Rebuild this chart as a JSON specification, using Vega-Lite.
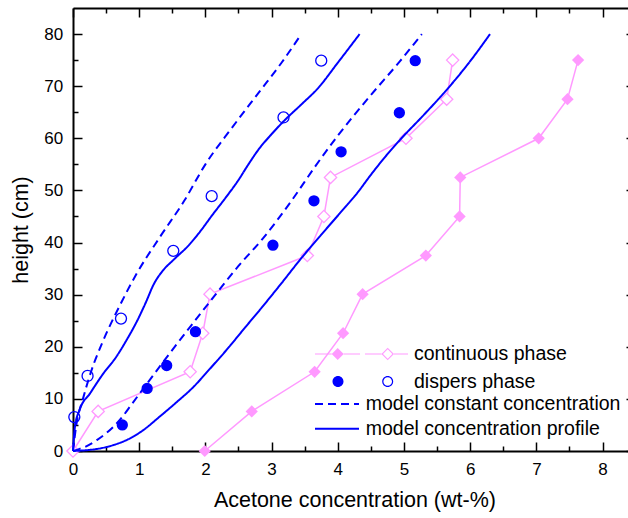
{
  "$schema": "https://vega.github.io/schema/vega-lite/v6.json",
  "width": 555,
  "height": 443,
  "autosize": {"type": "none"},
  "padding": {"left": 73, "top": 8, "right": 0, "bottom": 67},
  "background": "white",
  "config": {
    "font": "Liberation Sans",
    "view": {"stroke": null},
    "axis": {"grid": false, "domainColor": "black", "domainWidth": 2, "tickColor": "black", "tickWidth": 1.5, "labelColor": "black", "labelFont": "Liberation Sans", "titleFont": "Liberation Sans", "titleColor": "black", "titleFontWeight": "normal"},
    "legend": {"labelFont": "Liberation Sans", "labelColor": "black", "labelLimit": 0}
  },
  "resolve": {"axis": {"x": "independent", "y": "independent"}},
  "datasets": {
    "cont": [
      {"exp": "filled", "x": 1.99, "y": 0},
      {"exp": "filled", "x": 2.70, "y": 7.6},
      {"exp": "filled", "x": 3.65, "y": 15.2},
      {"exp": "filled", "x": 4.08, "y": 22.6},
      {"exp": "filled", "x": 4.375, "y": 30.1},
      {"exp": "filled", "x": 5.33, "y": 37.5},
      {"exp": "filled", "x": 5.84, "y": 45},
      {"exp": "filled", "x": 5.85, "y": 52.5},
      {"exp": "filled", "x": 7.035, "y": 60},
      {"exp": "filled", "x": 7.47, "y": 67.5},
      {"exp": "filled", "x": 7.63, "y": 75},
      {"exp": "open", "x": 0, "y": 0},
      {"exp": "open", "x": 0.38, "y": 7.6},
      {"exp": "open", "x": 1.77, "y": 15.2},
      {"exp": "open", "x": 1.96, "y": 22.6},
      {"exp": "open", "x": 2.07, "y": 30.1},
      {"exp": "open", "x": 3.54, "y": 37.5},
      {"exp": "open", "x": 3.79, "y": 45},
      {"exp": "open", "x": 3.89, "y": 52.5},
      {"exp": "open", "x": 5.03, "y": 60},
      {"exp": "open", "x": 5.645, "y": 67.5},
      {"exp": "open", "x": 5.735, "y": 75}
    ],
    "disp": [
      {"exp": "filled", "x": 0.745, "y": 5.0},
      {"exp": "filled", "x": 1.12, "y": 12.0},
      {"exp": "filled", "x": 1.415, "y": 16.4},
      {"exp": "filled", "x": 1.85, "y": 22.9},
      {"exp": "filled", "x": 3.02, "y": 39.5},
      {"exp": "filled", "x": 3.64, "y": 48.0},
      {"exp": "filled", "x": 4.05, "y": 57.4},
      {"exp": "filled", "x": 4.93, "y": 64.9},
      {"exp": "filled", "x": 5.17, "y": 74.9},
      {"exp": "open", "x": 0.02, "y": 6.5},
      {"exp": "open", "x": 0.22, "y": 14.4},
      {"exp": "open", "x": 0.725, "y": 25.4},
      {"exp": "open", "x": 1.515, "y": 38.4},
      {"exp": "open", "x": 2.095, "y": 48.9},
      {"exp": "open", "x": 3.18, "y": 64.0},
      {"exp": "open", "x": 3.75, "y": 74.9}
    ],
    "curves": [
      {"curve": "dl", "model": "model constant concentration", "x": 0, "y": 0},
      {"curve": "dl", "model": "model constant concentration", "x": 0.05, "y": 5},
      {"curve": "dl", "model": "model constant concentration", "x": 0.15, "y": 10},
      {"curve": "dl", "model": "model constant concentration", "x": 0.28, "y": 15.5},
      {"curve": "dl", "model": "model constant concentration", "x": 0.45, "y": 21},
      {"curve": "dl", "model": "model constant concentration", "x": 0.73, "y": 28.5},
      {"curve": "dl", "model": "model constant concentration", "x": 0.96, "y": 34},
      {"curve": "dl", "model": "model constant concentration", "x": 1.31, "y": 41},
      {"curve": "dl", "model": "model constant concentration", "x": 1.68, "y": 48},
      {"curve": "dl", "model": "model constant concentration", "x": 2.0, "y": 55},
      {"curve": "dl", "model": "model constant concentration", "x": 2.4, "y": 62},
      {"curve": "dl", "model": "model constant concentration", "x": 2.82, "y": 69},
      {"curve": "dl", "model": "model constant concentration", "x": 3.15, "y": 74.5},
      {"curve": "dl", "model": "model constant concentration", "x": 3.45, "y": 80},
      {"curve": "sl", "model": "model concentration profile", "x": 0, "y": 0},
      {"curve": "sl", "model": "model concentration profile", "x": 0.01, "y": 2},
      {"curve": "sl", "model": "model concentration profile", "x": 0.03, "y": 4.7},
      {"curve": "sl", "model": "model concentration profile", "x": 0.1, "y": 7.9},
      {"curve": "sl", "model": "model concentration profile", "x": 0.26, "y": 11.1},
      {"curve": "sl", "model": "model concentration profile", "x": 0.46, "y": 14.9},
      {"curve": "sl", "model": "model concentration profile", "x": 0.65, "y": 18},
      {"curve": "sl", "model": "model concentration profile", "x": 0.81, "y": 21.3},
      {"curve": "sl", "model": "model concentration profile", "x": 0.97, "y": 25},
      {"curve": "sl", "model": "model concentration profile", "x": 1.1, "y": 28.5},
      {"curve": "sl", "model": "model concentration profile", "x": 1.22, "y": 32},
      {"curve": "sl", "model": "model concentration profile", "x": 1.35, "y": 34.5},
      {"curve": "sl", "model": "model concentration profile", "x": 1.52, "y": 36.7},
      {"curve": "sl", "model": "model concentration profile", "x": 1.75, "y": 39.5},
      {"curve": "sl", "model": "model concentration profile", "x": 1.92, "y": 42.1},
      {"curve": "sl", "model": "model concentration profile", "x": 2.1, "y": 45.2},
      {"curve": "sl", "model": "model concentration profile", "x": 2.3, "y": 48.5},
      {"curve": "sl", "model": "model concentration profile", "x": 2.5, "y": 52},
      {"curve": "sl", "model": "model concentration profile", "x": 2.65, "y": 55},
      {"curve": "sl", "model": "model concentration profile", "x": 2.8, "y": 57.8},
      {"curve": "sl", "model": "model concentration profile", "x": 3.0, "y": 60.8},
      {"curve": "sl", "model": "model concentration profile", "x": 3.2, "y": 63.5},
      {"curve": "sl", "model": "model concentration profile", "x": 3.45, "y": 66.5},
      {"curve": "sl", "model": "model concentration profile", "x": 3.7, "y": 69.6},
      {"curve": "sl", "model": "model concentration profile", "x": 4.0, "y": 74.5},
      {"curve": "sl", "model": "model concentration profile", "x": 4.33, "y": 80},
      {"curve": "dr", "model": "model constant concentration", "x": 0, "y": 0},
      {"curve": "dr", "model": "model constant concentration", "x": 0.1, "y": 0.4},
      {"curve": "dr", "model": "model constant concentration", "x": 0.2, "y": 0.9},
      {"curve": "dr", "model": "model constant concentration", "x": 0.36, "y": 2.1},
      {"curve": "dr", "model": "model constant concentration", "x": 0.5, "y": 3.4},
      {"curve": "dr", "model": "model constant concentration", "x": 0.71, "y": 6},
      {"curve": "dr", "model": "model constant concentration", "x": 0.9, "y": 9.2},
      {"curve": "dr", "model": "model constant concentration", "x": 1.11, "y": 12.8},
      {"curve": "dr", "model": "model constant concentration", "x": 1.465, "y": 18.8},
      {"curve": "dr", "model": "model constant concentration", "x": 2.04, "y": 28.2},
      {"curve": "dr", "model": "model constant concentration", "x": 2.5, "y": 35.5},
      {"curve": "dr", "model": "model constant concentration", "x": 2.87, "y": 40.8},
      {"curve": "dr", "model": "model constant concentration", "x": 3.3, "y": 48},
      {"curve": "dr", "model": "model constant concentration", "x": 3.67, "y": 54.8},
      {"curve": "dr", "model": "model constant concentration", "x": 4.0, "y": 60.5},
      {"curve": "dr", "model": "model constant concentration", "x": 4.5, "y": 68.3},
      {"curve": "dr", "model": "model constant concentration", "x": 4.94, "y": 74.8},
      {"curve": "dr", "model": "model constant concentration", "x": 5.27, "y": 80},
      {"curve": "sr", "model": "model concentration profile", "x": 0, "y": 0},
      {"curve": "sr", "model": "model concentration profile", "x": 0.2, "y": 0.15},
      {"curve": "sr", "model": "model concentration profile", "x": 0.41, "y": 0.5},
      {"curve": "sr", "model": "model concentration profile", "x": 0.6, "y": 1.1},
      {"curve": "sr", "model": "model concentration profile", "x": 0.81, "y": 2.1},
      {"curve": "sr", "model": "model concentration profile", "x": 1.05, "y": 3.9},
      {"curve": "sr", "model": "model concentration profile", "x": 1.31, "y": 6.6},
      {"curve": "sr", "model": "model concentration profile", "x": 1.55, "y": 9.2},
      {"curve": "sr", "model": "model concentration profile", "x": 1.82, "y": 12.3},
      {"curve": "sr", "model": "model concentration profile", "x": 2.07, "y": 15.8},
      {"curve": "sr", "model": "model concentration profile", "x": 2.32, "y": 19.4},
      {"curve": "sr", "model": "model concentration profile", "x": 2.6, "y": 23.7},
      {"curve": "sr", "model": "model concentration profile", "x": 2.85, "y": 27.5},
      {"curve": "sr", "model": "model concentration profile", "x": 3.15, "y": 32.2},
      {"curve": "sr", "model": "model concentration profile", "x": 3.43, "y": 36.7},
      {"curve": "sr", "model": "model concentration profile", "x": 3.75, "y": 41.5},
      {"curve": "sr", "model": "model concentration profile", "x": 4.03, "y": 45.6},
      {"curve": "sr", "model": "model concentration profile", "x": 4.3, "y": 49.6},
      {"curve": "sr", "model": "model concentration profile", "x": 4.5, "y": 53},
      {"curve": "sr", "model": "model concentration profile", "x": 4.7, "y": 56.2},
      {"curve": "sr", "model": "model concentration profile", "x": 4.94, "y": 59.7},
      {"curve": "sr", "model": "model concentration profile", "x": 5.3, "y": 64.5},
      {"curve": "sr", "model": "model concentration profile", "x": 5.645, "y": 69.3},
      {"curve": "sr", "model": "model concentration profile", "x": 6.0, "y": 74.8},
      {"curve": "sr", "model": "model concentration profile", "x": 6.3, "y": 80}
    ],
    "legendrows": [
      {"series": "continuous phase"},
      {"series": "dispers phase"}
    ]
  },
  "layer": [
    {
      "data": {"name": "cont"},
      "mark": {"type": "line", "color": "#ff99ff", "strokeWidth": 1.5},
      "encoding": {
        "x": {"field": "x", "type": "quantitative", "scale": {"domain": [0, 8.384], "nice": false, "zero": false},
              "axis": {"orient": "bottom", "values": [0.5, 1.5, 2.5, 3.5, 4.5, 5.5, 6.5, 7.5], "tickSize": -5, "labels": false, "domain": false, "title": null}},
        "y": {"field": "y", "type": "quantitative", "scale": {"domain": [0, 85], "nice": false, "zero": false},
              "axis": {"orient": "left", "values": [5, 15, 25, 35, 45, 55, 65, 75], "tickSize": -5, "labels": false, "domain": false, "title": null}},
        "detail": {"field": "exp"},
        "order": {"field": "y", "type": "quantitative"}
      }
    },
    {
      "data": {"name": "cont"},
      "transform": [{"filter": "datum.exp === 'filled'"}],
      "mark": {"type": "point", "shape": "diamond", "filled": true, "color": "#ff99ff", "size": 150, "opacity": 1},
      "encoding": {
        "x": {"field": "x", "type": "quantitative", "scale": {"domain": [0, 8.384], "nice": false, "zero": false},
              "axis": {"orient": "top", "values": [0, 1, 2, 3, 4, 5, 6, 7, 8], "tickSize": -9, "labels": false, "domain": true, "title": null}},
        "y": {"field": "y", "type": "quantitative", "scale": {"domain": [0, 85], "nice": false, "zero": false},
              "axis": {"orient": "right", "offset": 8, "values": [0, 10, 20, 30, 40, 50, 60, 70, 80], "tickSize": -10, "labels": false, "domain": true, "title": null}}
      }
    },
    {
      "data": {"name": "cont"},
      "transform": [{"filter": "datum.exp === 'open'"}],
      "mark": {"type": "point", "shape": "diamond", "filled": false, "fill": "white", "fillOpacity": 1, "stroke": "#ff99ff", "strokeWidth": 1.3, "size": 150, "opacity": 1},
      "encoding": {
        "x": {"field": "x", "type": "quantitative", "scale": {"domain": [0, 8.384], "nice": false, "zero": false},
              "axis": {"orient": "top", "values": [0.5, 1.5, 2.5, 3.5, 4.5, 5.5, 6.5, 7.5], "tickSize": -5, "labels": false, "domain": false, "title": null}},
        "y": {"field": "y", "type": "quantitative", "scale": {"domain": [0, 85], "nice": false, "zero": false}, "axis": null}
      }
    },
    {
      "data": {"name": "curves"},
      "mark": {"type": "line", "color": "#0000ff", "strokeWidth": 2, "strokeCap": "butt", "interpolate": "monotone"},
      "encoding": {
        "x": {"field": "x", "type": "quantitative", "scale": {"domain": [0, 8.384], "nice": false, "zero": false},
              "axis": {"orient": "bottom", "values": [0, 1, 2, 3, 4, 5, 6, 7, 8], "tickSize": -9, "labelFontSize": 17, "labelPadding": 19.5, "labelFlush": false, "labelOverlap": false,
                       "title": "Acetone concentration (wt-%)", "titleFontSize": 21.5, "titlePadding": 11.5, "titleX": 281.4}},
        "y": {"field": "y", "type": "quantitative", "scale": {"domain": [0, 85], "nice": false, "zero": false},
              "axis": {"orient": "left", "values": [0, 10, 20, 30, 40, 50, 60, 70, 80], "tickSize": -9, "labelFontSize": 17, "labelPadding": 19.3, "labelFlush": false, "labelOverlap": false,
                       "title": "height (cm)", "titleFontSize": 21.5, "titlePadding": 11.3}},
        "detail": {"field": "curve"},
        "order": {"field": "y", "type": "quantitative"},
        "strokeDash": {"field": "model", "type": "nominal",
                       "scale": {"domain": ["model constant concentration", "model concentration profile"], "range": [[8, 5], [1, 0]]},
                       "legend": {"title": null, "orient": "none", "legendX": 270.25, "legendY": 386.25, "padding": 0,
                                  "symbolType": "M-38,0H6", "symbolSize": 4, "symbolStrokeWidth": 2, "symbolStrokeColor": "#0000ff",
                                  "labelFontSize": 19.5, "labelOffset": 2.95, "rowPadding": 3.8}}
      }
    },
    {
      "data": {"name": "disp"},
      "transform": [{"filter": "datum.exp === 'filled'"}],
      "mark": {"type": "point", "shape": "circle", "filled": true, "color": "#0000ff", "size": 128, "opacity": 1},
      "encoding": {
        "x": {"field": "x", "type": "quantitative", "scale": {"domain": [0, 8.384], "nice": false, "zero": false}, "axis": null},
        "y": {"field": "y", "type": "quantitative", "scale": {"domain": [0, 85], "nice": false, "zero": false}, "axis": null}
      }
    },
    {
      "data": {"name": "disp"},
      "transform": [{"filter": "datum.exp === 'open'"}],
      "mark": {"type": "point", "shape": "circle", "filled": false, "stroke": "#0000ff", "strokeWidth": 1.3, "size": 121, "opacity": 1},
      "encoding": {
        "x": {"field": "x", "type": "quantitative", "scale": {"domain": [0, 8.384], "nice": false, "zero": false}, "axis": null},
        "y": {"field": "y", "type": "quantitative", "scale": {"domain": [0, 85], "nice": false, "zero": false}, "axis": null}
      }
    },
    {
      "data": {"name": "legendrows"},
      "transform": [{"filter": "false"}],
      "mark": {"type": "point", "filled": true, "size": 4, "opacity": 1, "fillOpacity": 1},
      "encoding": {
        "color": {"field": "series", "type": "nominal",
                  "scale": {"domain": ["continuous phase", "dispers phase"], "range": ["#ff99ff", "#0000ff"]},
                  "legend": {"title": null, "orient": "none", "legendX": 279.25, "legendY": 336.25, "padding": 0,
                             "symbolSize": 4, "symbolStrokeWidth": 0, "symbolOpacity": 1, "symbolFillColor": null,
                             "labelFontSize": 19.5, "labelOffset": 42.25, "rowPadding": 6.5}},
        "shape": {"field": "series", "type": "nominal",
                  "scale": {"domain": ["continuous phase", "dispers phase"],
                            "range": [
                              "M-47,-0.6H-30.3V0.6H-47Z M-18.3,-0.6H-2V0.6H-18.3Z M3,-0.6H19.4V0.6H3Z M32,-0.6H46V0.6H32Z M-30.3,0L-24.3,-6L-18.3,0L-24.3,6Z M19.4,0L25.7,-6.3L32,0L25.7,6.3Z M21,0L25.7,4.7L30.4,0L25.7,-4.7Z",
                              "M-29.5,0A5.5,5.5 0 1,1 -18.5,0A5.5,5.5 0 1,1 -29.5,0Z M20.2,0A5.5,5.5 0 1,1 31.2,0A5.5,5.5 0 1,1 20.2,0Z M21.4,0A4.3,4.3 0 1,0 30,0A4.3,4.3 0 1,0 21.4,0Z"
                            ]}}
      }
    }
  ]
}
